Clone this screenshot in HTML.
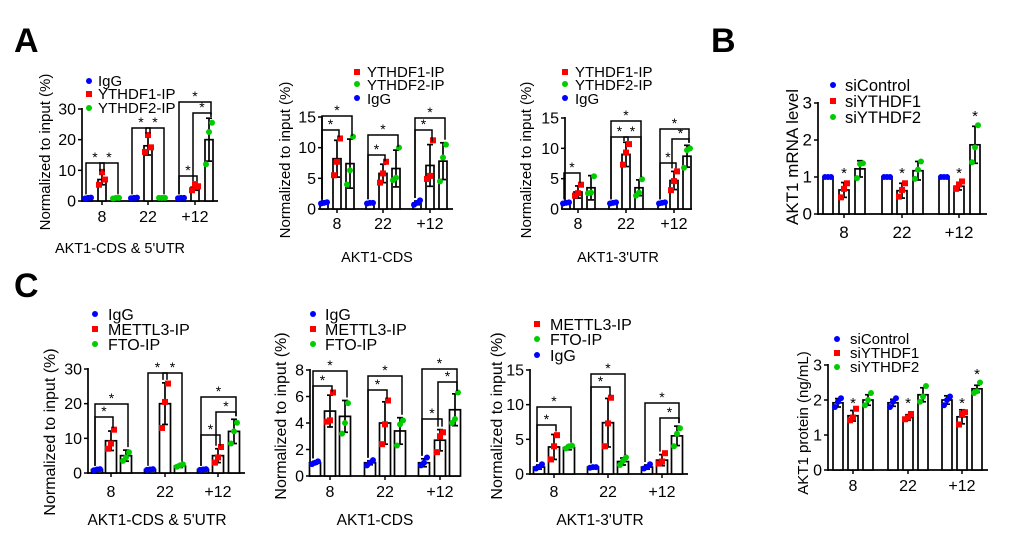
<!DOCTYPE html>
<html><head><meta charset="utf-8"><style>
html,body{margin:0;padding:0;background:#fff}
svg{display:block;font-family:"Liberation Sans",Arial,sans-serif}
.L{font-size:34px;font-weight:bold}
.ttl{font-size:14.5px}
.lg{font-size:15px}
.yl{font-size:15px}
</style></head><body>
<svg id="s" width="1010" height="549" viewBox="0 0 1010 549" xmlns="http://www.w3.org/2000/svg">
<text class="L" x="14" y="52">A</text>
<text class="L" x="711" y="52">B</text>
<text class="L" x="14" y="297">C</text>

<text class="ttl" x="120" y="253" text-anchor="middle">AKT1-CDS &amp; 5'UTR</text>
<text class="ttl" x="377" y="262" text-anchor="middle">AKT1-CDS</text>
<text class="ttl" x="618" y="262" text-anchor="middle">AKT1-3'UTR</text>
<text class="ttl" x="157" y="525" text-anchor="middle" style="font-size:15.5px">AKT1-CDS &amp; 5'UTR</text>
<text class="ttl" x="375" y="525" text-anchor="middle" style="font-size:15.5px">AKT1-CDS</text>
<text class="ttl" x="600" y="525" text-anchor="middle" style="font-size:15.5px">AKT1-3'UTR</text>

<text class="yl" transform="translate(50,152) rotate(-90)" text-anchor="middle">Normalized to input (%)</text>
<text class="yl" transform="translate(290,160) rotate(-90)" text-anchor="middle">Normalized to input (%)</text>
<text class="yl" transform="translate(531,160) rotate(-90)" text-anchor="middle">Normalized to input (%)</text>
<text class="yl" style="font-size:17px" transform="translate(798,157) rotate(-90)" text-anchor="middle">AKT1 mRNA level</text>
<text class="yl" style="font-size:16px" transform="translate(55,432) rotate(-90)" text-anchor="middle">Normalized to input (%)</text>
<text class="yl" style="font-size:16px" transform="translate(286,416) rotate(-90)" text-anchor="middle">Normalized to input (%)</text>
<text class="yl" style="font-size:16px" transform="translate(502,416) rotate(-90)" text-anchor="middle">Normalized to input (%)</text>
<text class="yl" style="font-size:15px" transform="translate(808,423) rotate(-90)" text-anchor="middle">AKT1 protein (ng/mL)</text>

<g class="lg">
<circle cx="89" cy="81" r="3" fill="#00f"/><text x="98" y="86">IgG</text>
<rect x="86" y="91" width="6" height="6" fill="#f00"/><text x="98" y="99">YTHDF1-IP</text>
<circle cx="89" cy="108" r="3" fill="#0c0"/><text x="98" y="113">YTHDF2-IP</text>

<rect x="354" y="69" width="6" height="6" fill="#f00"/><text x="367" y="77">YTHDF1-IP</text>
<circle cx="357" cy="84" r="3" fill="#0c0"/><text x="367" y="90">YTHDF2-IP</text>
<circle cx="357" cy="98" r="3" fill="#00f"/><text x="367" y="104">IgG</text>

<rect x="562" y="69" width="6" height="6" fill="#f00"/><text x="575" y="77">YTHDF1-IP</text>
<circle cx="565" cy="84" r="3" fill="#0c0"/><text x="575" y="90">YTHDF2-IP</text>
<circle cx="565" cy="98" r="3" fill="#00f"/><text x="575" y="104">IgG</text>

<circle cx="833" cy="85" r="3" fill="#00f"/><text x="845" y="91" style="font-size:16.5px">siControl</text>
<rect x="830" y="98" width="6" height="6" fill="#f00"/><text x="845" y="107" style="font-size:16.5px">siYTHDF1</text>
<circle cx="833" cy="117" r="3" fill="#0c0"/><text x="845" y="123" style="font-size:16.5px">siYTHDF2</text>

<circle cx="95" cy="314" r="3" fill="#00f"/><text x="108" y="320" style="font-size:16px">IgG</text>
<rect x="92" y="326" width="6" height="6" fill="#f00"/><text x="108" y="335" style="font-size:16px">METTL3-IP</text>
<circle cx="95" cy="344" r="3" fill="#0c0"/><text x="108" y="350" style="font-size:16px">FTO-IP</text>

<circle cx="313" cy="314" r="3" fill="#00f"/><text x="325" y="320" style="font-size:16px">IgG</text>
<rect x="310" y="326" width="6" height="6" fill="#f00"/><text x="325" y="335" style="font-size:16px">METTL3-IP</text>
<circle cx="313" cy="344" r="3" fill="#0c0"/><text x="325" y="350" style="font-size:16px">FTO-IP</text>

<rect x="534" y="321" width="6" height="6" fill="#f00"/><text x="550" y="330" style="font-size:16px">METTL3-IP</text>
<circle cx="537" cy="339" r="3" fill="#0c0"/><text x="550" y="345" style="font-size:16px">FTO-IP</text>
<circle cx="537" cy="355" r="3" fill="#00f"/><text x="550" y="361" style="font-size:16px">IgG</text>

<circle cx="837" cy="339" r="3" fill="#00f"/><text x="850" y="344" style="font-size:15px">siControl</text>
<rect x="834" y="350" width="6" height="6" fill="#f00"/><text x="850" y="358" style="font-size:15px">siYTHDF1</text>
<circle cx="837" cy="367" r="3" fill="#0c0"/><text x="850" y="372" style="font-size:15px">siYTHDF2</text>
</g>
<g id="g"></g>
</svg>
<script>
var NS="http://www.w3.org/2000/svg",G=document.getElementById("g");
function el(t,a,txt){var e=document.createElementNS(NS,t);for(var k in a)e.setAttribute(k,a[k]);if(txt!==undefined)e.textContent=txt;G.appendChild(e);return e;}
var cols=["#00f","#f00","#0c0"];
var P=[
{ax:82,y0:201,yt:109,max:30,ticks:["0","10","20","30"],end:218,bw:8,ly:222,
 g:[[88,102,116],[134,148,162],[181,195,209]],
 v:[[[1,.2,[.8,1,1.1]],[7,1.7,[5.3,9.5,7]],[1,.2,[.8,1,1]]],[[1,.2,[.9,1,1.1]],[18,3,[16,21.5,17.5]],[1,.2,[1,1,1]]],[[1,.2,[.9,1,1]],[4.5,1,[3.5,5.5,4.8]],[20,7,[12,22.5,25.5]]]],
 br:[[0,0,1,163],[0,1,2,163],[1,0,1,128],[1,1,2,128],[2,0,1,176],[2,1,2,113],[2,0,2,102]],st:[]},
{ax:322,y0:209,yt:117,max:15,ticks:["0","5","10","15"],end:453,bw:8,ly:229,
 g:[[324,337,350],[370,383,396],[417,430,443]],
 v:[[[1,.1,[.9,1,1.1]],[8.2,3,[5.5,7.7,11.5]],[7.4,4,[4,6.3,11.8]]],[[1,.1,[.9,1,1]],[5.8,1.5,[4.3,5.8,7.7]],[6.6,3,[4.7,5.1,10]]],[[1,.3,[.7,1,1.4]],[7.1,3.4,[4.9,5.4,11.2]],[7.8,3,[4.5,8.4,10.5]]]],
 br:[[0,0,1,130],[0,0,2,116],[1,0,1,155],[1,0,2,135],[2,0,1,130],[2,0,2,118]],st:[]},
{ax:565,y0:209,yt:118,max:15,ticks:["0","5","10","15"],end:692,bw:8,ly:229,
 g:[[566,578,591],[613,626,639],[662,674,687]],
 v:[[[1,.1,[.9,1,1.1]],[2.8,1,[2.2,2.6,4]],[3.5,2,[2.6,2.7,5.4]]],[[1,.1,[.9,1,1.1]],[9,2,[7.3,9.3,10.7]],[3.5,1.3,[2.2,2.7,4.9]]],[[1,.1,[.9,1,1.1]],[4.7,1.5,[3.1,4.6,6.2]],[8.7,1.8,[6.8,9.7,10]]]],
 br:[[0,0,1,173],[1,0,1,137],[1,1,2,137],[1,0,2,121],[2,0,1,163],[2,1,2,139],[2,0,2,129]],st:[]},
{ax:818,y0:214,yt:103,max:3,ticks:["0","1","2","3"],end:987,bw:10,ly:238,fs:17,
 g:[[828,844,860],[887,902,918],[944,959,975]],
 v:[[[1,0,[1,1,1]],[.65,.2,[.45,.68,.83]],[1.22,.22,[.97,1.35,1.37]]],[[1,0,[1,1,1]],[.63,.2,[.47,.65,.83]],[1.17,.25,[.95,1.2,1.42]]],[[1,0,[1,1,1]],[.75,.1,[.68,.8,.88]],[1.87,.5,[1.4,1.8,2.4]]]],
 br:[],st:[[844,172],[902,172],[959,172],[975,115]]},
{ax:88,y0:473,yt:369,max:30,ticks:["0","10","20","30"],end:245,bw:11,ly:497,fs:16,
 g:[[97,111,126],[150,165,180],[203,218,234]],
 v:[[[1,.2,[.8,1,1.1]],[9.3,2.8,[7,8.5,12.5]],[5,1.6,[3.5,4.5,6]]],[[1,.2,[.9,1,1.1]],[20,6,[13,20.5,25.8]],[2,.4,[1.8,2.2,2.5]]],[[1,.2,[.9,1,1.1]],[5,2,[3,4.5,7.5]],[12,3.5,[8.5,12,14.5]]]],
 br:[[0,0,1,417],[0,0,2,404],[1,0,1,373],[1,1,2,373],[2,0,1,435],[2,1,2,412],[2,0,2,397]],st:[]},
{ax:310,y0:476,yt:370,max:8,ticks:["0","2","4","6","8"],end:460,bw:11,ly:497,fs:16,
 g:[[315,330,345],[370,385,400],[424,440,455]],
 v:[[[1,.1,[.9,1,1.1]],[4.9,1.2,[4.1,4.2,6.3]],[4.5,1.2,[3.2,4,5.5]]],[[1,.15,[.8,1,1.2]],[4,1.6,[2.4,3.9,5.7]],[3.4,1,[2.3,3.9,4.2]]],[[1,.3,[.8,1,1.4]],[2.7,.8,[1.8,3,3.3]],[5,1.2,[4,4.3,6.3]]]],
 br:[[0,0,1,386],[0,0,2,371],[1,0,1,390],[1,0,2,376],[2,0,1,419],[2,1,2,382],[2,0,2,369]],st:[]},
{ax:530,y0:474,yt:370,max:15,ticks:["0","5","10","15"],end:688,bw:11,ly:497,fs:16,
 g:[[539,554,569],[593,608,623],[647,662,677]],
 v:[[[1,.3,[.8,1,1.4]],[3.9,1.8,[2.1,4,5.6]],[3.8,.3,[3.7,4,4.1]]],[[1,.1,[.9,1,1]],[7.4,3.5,[4,7.3,11]],[1.8,.5,[1.3,1.9,2.4]]],[[1,.3,[.8,1,1.4]],[2,.8,[1.5,1.8,3]],[5.5,1.4,[4,5.8,6.6]]]],
 br:[[0,0,1,425],[0,0,2,407],[1,0,1,387],[1,0,2,374],[2,1,2,418],[2,0,2,403]],st:[]},
{ax:828,y0:470,yt:365,max:3,ticks:["0","1","2","3"],end:988,bw:10,ly:491,fs:16,
 g:[[838,853,868],[893,908,923],[947,962,977]],
 v:[[[1.92,.12,[1.8,1.95,2.05]],[1.55,.15,[1.42,1.5,1.75]],[2,.15,[1.85,2,2.2]]],[[1.92,.1,[1.8,1.95,2.05]],[1.5,.08,[1.45,1.5,1.6]],[2.15,.2,[1.95,2.1,2.4]]],[[2,.12,[1.85,2,2.1]],[1.52,.2,[1.3,1.6,1.65]],[2.32,.1,[2.2,2.25,2.5]]]],
 br:[],st:[[853,402],[908,402],[962,402],[977,373]]}
];
var cats=["8","22","+12"];
P.forEach(function(p){
 var Y=function(v){return p.y0-(p.y0-p.yt)*v/p.max;};
 var n=p.ticks.length;
 el("line",{x1:p.ax,y1:p.yt-1,x2:p.ax,y2:p.y0+1,stroke:"#000","stroke-width":1.7});
 el("line",{x1:p.ax,y1:p.y0,x2:p.end,y2:p.y0,stroke:"#000","stroke-width":1.7});
 p.ticks.forEach(function(t,i){var y=p.y0-(p.y0-p.yt)*i/(n-1);
  el("line",{x1:p.ax-4,y1:y,x2:p.ax,y2:y,stroke:"#000","stroke-width":1.5});
  el("text",{x:p.ax-6,y:y+5.5,"text-anchor":"end","font-size":p.fs||16},t);});
 p.g.forEach(function(gx,gi){
  el("line",{x1:gx[1],y1:p.y0,x2:gx[1],y2:p.y0+4,stroke:"#000","stroke-width":1.5});
  el("text",{x:gx[1],y:p.ly,"text-anchor":"middle","font-size":p.fs||16},cats[gi]);
  gx.forEach(function(x,bi){var d=p.v[gi][bi],y=Y(d[0]);
   el("rect",{x:x-p.bw/2,y:y,width:p.bw,height:p.y0-y,fill:"#fff",stroke:"#000","stroke-width":1.7});
   if(d[1]>0){var a=Y(d[0]+d[1]),b=Y(Math.max(0,d[0]-d[1]));
    el("line",{x1:x,y1:a,x2:x,y2:b,stroke:"#000","stroke-width":1.7});
    el("line",{x1:x-3,y1:a,x2:x+3,y2:a,stroke:"#000","stroke-width":1.7});
    el("line",{x1:x-3,y1:b,x2:x+3,y2:b,stroke:"#000","stroke-width":1.7});}
   d[2].forEach(function(v,k){var px=x+(k-1)*3,py=Y(v);
    if(bi==1)el("rect",{x:px-3,y:py-3,width:6,height:6,fill:cols[1]});
    else el("circle",{cx:px,cy:py,r:3,fill:cols[bi]});});
  });});
 p.br.forEach(function(b){var g=p.g[b[0]],x1=g[b[1]],x2=g[b[2]],L=b[3];
  var t1=Y(p.v[b[0]][b[1]][0]+p.v[b[0]][b[1]][1])-3,t2=Y(p.v[b[0]][b[2]][0]+p.v[b[0]][b[2]][1])-3;
  t1=Math.max(t1,L+4);t2=Math.max(t2,L+4);
  el("polyline",{points:(x1-2)+","+t1+" "+(x1-2)+","+L+" "+(x2+2)+","+L+" "+(x2+2)+","+t2,fill:"none",stroke:"#000","stroke-width":1.5});
  el("text",{x:(x1+x2)/2,y:L-1,"text-anchor":"middle","font-size":14},"*");});
 p.st.forEach(function(s){el("text",{x:s[0],y:s[1]+6,"text-anchor":"middle","font-size":15},"*");});
});
</script>
</body></html>
